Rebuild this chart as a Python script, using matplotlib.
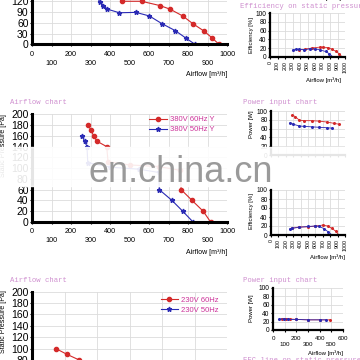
import numpy as np
import matplotlib.pyplot as plt
from matplotlib.patches import Rectangle

plt.rcParams['font.family'] = ['Liberation Sans', 'DejaVu Sans']

# ---- values ----
# top airflow chart (cut off at the top)
top_red_x = [400, 440, 460, 562, 656, 708, 773, 826, 882, 923, 959]
top_red_y = [185, 140, 120, 120, 108, 98, 79, 57, 37, 18, 0]
top_blue_x = [310, 333, 348, 366, 386, 448, 533, 602, 665, 735, 790, 836]
top_blue_y = [160, 132, 118, 108, 98, 88, 89, 79, 58, 38, 17, 0]

# 380V airflow chart
mid_red_x = [289, 303, 316, 333, 383, 390, 500, 650, 760, 765, 821, 878, 916]
mid_red_y = [180, 170, 160, 150, 140, 112, 106, 103, 96, 60, 40, 20, 0]
mid_blue_x = [256, 270, 282, 286, 400, 550, 650, 653, 718, 773, 826]
mid_blue_y = [160, 150, 140, 110, 102, 98, 92, 60, 40, 20, 0]
mid_labels = ['380V 60Hz Y', '380V 50Hz Y']

# 230V airflow chart (cut off at the bottom)
low_red_x = [74, 108, 146, 200, 300, 400, 500, 540]
low_red_y = [100, 90, 80, 68, 50, 30, 10, 0]
low_blue_x = [55, 95, 130, 200, 300, 400, 480]
low_blue_y = [75, 68, 60, 50, 35, 18, 0]
low_labels = ['230V 60Hz', '230V 50Hz']

# efficiency, top right
eff1_red_x = [380, 460, 560, 660, 710, 770, 830, 880, 920, 959]
eff1_red_y = [16, 17, 20, 22, 22, 21, 17, 12, 7, 0]
eff1_blue_x = [300, 350, 390, 450, 530, 600, 660, 740, 790, 836]
eff1_blue_y = [15, 17, 17, 16, 18, 18, 16, 12, 7, 0]

# power, middle right
pow1_red_x = [289, 330, 383, 450, 550, 650, 750, 850, 916]
pow1_red_y = [91, 87, 79, 78, 78, 77, 75, 72, 70]
pow1_blue_x = [256, 300, 380, 450, 550, 650, 750, 826]
pow1_blue_y = [73, 70, 66, 65, 64, 63, 62, 61]

# efficiency, middle right
eff2_red_x = [289, 383, 500, 600, 700, 765, 821, 878, 916]
eff2_red_y = [15, 18, 18, 20, 22, 20, 15, 8, 0]
eff2_blue_x = [256, 282, 380, 500, 600, 653, 718, 773, 826]
eff2_blue_y = [14, 15, 17, 19, 20, 19, 14, 7, 0]

# power, bottom right
pow2_red_x = [74, 108, 146, 200, 300, 400, 489]
pow2_red_y = [27, 27, 26, 25, 24, 24, 24]
pow2_blue_x = [55, 95, 130, 200, 300, 400, 450]
pow2_blue_y = [26, 26, 25, 25, 24, 24, 24]

RED = '#d42a2a'
BLUE = '#2a2ab4'
PINK = '#cf8fcf'
MAG = '#cc3399'
GRID = '#dcdcdc'

fig = plt.figure(figsize=(3.6, 3.6), dpi=100)


def box(l, t, r, b):
    return [l / 360, 1 - b / 360, (r - l) / 360, (b - t) / 360]


def fx(x):
    return x / 360


def fy(y):
    return 1 - y / 360


def setup(ax, xmax, xstep, ymax, ystep, yfs, xfs, sw):
    ax.set_xlim(0, xmax)
    ax.set_ylim(0, ymax)
    ax.set_yticks(np.arange(0, ymax + 1, ystep))
    ax.set_xticks(np.arange(0, xmax + 1, xstep))
    ax.grid(True, color=GRID, lw=0.6)
    ax.set_axisbelow(True)
    for s in ['top', 'right']:
        ax.spines[s].set_visible(False)
    for s in ['left', 'bottom']:
        ax.spines[s].set_linewidth(sw)
    ax.tick_params(axis='y', labelsize=yfs, length=1.5, width=0.8, pad=1)
    ax.tick_params(axis='x', labelsize=xfs, length=1.5, width=0.8, pad=3)


def two_rows(ax, vals, step2, fs, ls=1.45):
    labs = []
    for v in vals:
        labs.append(str(v) if (v // step2) % 2 == 0 else '\n' + str(v))
    ax.set_xticklabels(labs, fontsize=fs)
    for t in ax.get_xticklabels():
        t.set_linespacing(ls)


def curve(ax, x, y, c, mk, ms, lw, label=None):
    ax.plot(x, y, color=c, lw=lw, marker=mk, ms=ms, mec=c, mfc=c, label=label,
            clip_on=True)


# ---- top airflow chart ----
ax1 = fig.add_axes(box(32, -31, 227, 44.3))
setup(ax1, 1000, 100, 210, 30, 7.5, 5.2, 2.2)
two_rows(ax1, list(range(0, 1001, 100)), 100, 5.2)
ax1.set_yticks([0, 30, 60, 90, 120])
ax1.set_xticks(np.arange(0, 1001, 20), minor=True)
ax1.tick_params(axis='x', which='minor', length=2, width=0.8, direction='inout')
curve(ax1, top_red_x, top_red_y, RED, 'o', 3, 0.8)
curve(ax1, top_blue_x, top_blue_y, BLUE, '*', 3.5, 0.8)
fig.text(fx(227), fy(75), 'Airflow [m³/h]', fontsize=5, ha='right', va='center')

# ---- 380V airflow chart ----
ax2 = fig.add_axes(box(32, 114.3, 227, 222))
setup(ax2, 1000, 100, 200, 20, 7.5, 5.2, 2.2)
two_rows(ax2, list(range(0, 1001, 100)), 100, 5.2)
ax2.set_xticks(np.arange(0, 1001, 20), minor=True)
ax2.tick_params(axis='x', which='minor', length=2, width=0.8, direction='inout')
curve(ax2, mid_red_x, mid_red_y, RED, 'o', 3, 0.8, mid_labels[0])
curve(ax2, mid_blue_x, mid_blue_y, BLUE, '*', 3.5, 0.8, mid_labels[1])
ax2.legend(loc='upper left', bbox_to_anchor=(0.6, 0.985), frameon=False,
           fontsize=5.5, labelcolor=MAG, handlelength=2.3, handletextpad=0.4,
           labelspacing=0.35, borderpad=0, borderaxespad=0)
fig.text(fx(10), fy(103), 'Airflow chart', family='Liberation Mono', fontsize=5.2,
         color=PINK, va='center')
fig.text(fx(3.5), fy(146), 'Static Pressure [Pa]', fontsize=5, rotation=90,
         ha='center', va='center')
fig.text(fx(227), fy(252), 'Airflow [m³/h]', fontsize=5, ha='right', va='center')

# ---- 230V airflow chart ----
ax3 = fig.add_axes(box(32, 291.7, 227, 405.7))
setup(ax3, 600, 100, 200, 20, 7.5, 5.2, 2.2)
curve(ax3, low_red_x, low_red_y, RED, 'o', 3, 0.8, low_labels[0])
curve(ax3, low_blue_x, low_blue_y, BLUE, '*', 3.5, 0.8, low_labels[1])
ax3.legend(loc='upper left', bbox_to_anchor=(0.66, 0.96), frameon=False,
           fontsize=5.5, labelcolor=MAG, handlelength=2.3, handletextpad=0.4,
           labelspacing=0.35, borderpad=0, borderaxespad=0)
fig.text(fx(10), fy(281), 'Airflow chart', family='Liberation Mono', fontsize=5.2,
         color=PINK, va='center')
fig.text(fx(3.5), fy(322), 'Static Pressure [Pa]', fontsize=5, rotation=90,
         ha='center', va='center')

# ---- efficiency, top right ----
ax4 = fig.add_axes(box(270, 13.3, 345, 56.7))
setup(ax4, 1000, 100, 100, 20, 4.8, 3.8, 1.6)
ax4.set_xticklabels([str(v) for v in range(0, 1001, 100)], rotation=90)
ax4.tick_params(axis='x', pad=1.5)
curve(ax4, eff1_red_x, eff1_red_y, RED, 'o', 1.2, 0.6)
curve(ax4, eff1_blue_x, eff1_blue_y, BLUE, 'o', 1.2, 0.6)
fig.text(fx(240), fy(6), 'Efficiency on static pressure', family='Liberation Mono',
         fontsize=5.2, color=PINK, va='center')
fig.text(fx(251), fy(35), 'Efficiency [%]', fontsize=4.3, rotation=90,
         ha='center', va='center')
fig.text(fx(323), fy(80), 'Airflow [m³/h]', fontsize=4.3, ha='center', va='center')
fig.text(fx(323), fy(1), 'Airflow [m³/h]', fontsize=4.3, ha='center', va='bottom')

# ---- power, middle right ----
ax5 = fig.add_axes(box(271, 111, 345, 155))
setup(ax5, 1000, 100, 100, 20, 4.8, 3.8, 1.6)
ax5.set_xticklabels([])
curve(ax5, pow1_red_x, pow1_red_y, RED, 'o', 1.2, 0.6)
curve(ax5, pow1_blue_x, pow1_blue_y, BLUE, 'o', 1.2, 0.6)
fig.text(fx(243), fy(103), 'Power input chart', family='Liberation Mono',
         fontsize=5.2, color=PINK, va='center')
fig.text(fx(251), fy(124), 'Power [W]', fontsize=4.3, rotation=90,
         ha='center', va='center')

# ---- efficiency, middle right ----
ax6 = fig.add_axes(box(271, 190, 345, 235))
setup(ax6, 1000, 100, 100, 20, 4.8, 3.8, 1.6)
ax6.set_xticklabels([str(v) for v in range(0, 1001, 100)], rotation=90)
ax6.tick_params(axis='x', pad=1.5)
curve(ax6, eff2_red_x, eff2_red_y, RED, 'o', 1.2, 0.6)
curve(ax6, eff2_blue_x, eff2_blue_y, BLUE, 'o', 1.2, 0.6)
fig.text(fx(251), fy(211), 'Efficiency [%]', fontsize=4.3, rotation=90,
         ha='center', va='center')
fig.text(fx(327), fy(257), 'Airflow [m³/h]', fontsize=4.3, ha='center', va='center')

# ---- power, bottom right ----
ax7 = fig.add_axes(box(273, 287.7, 343, 330))
setup(ax7, 600, 100, 100, 20, 4.8, 4.5, 1.6)
two_rows(ax7, list(range(0, 601, 100)), 100, 4.5, ls=1.3)
curve(ax7, pow2_red_x, pow2_red_y, RED, 'o', 1.2, 0.6)
curve(ax7, pow2_blue_x, pow2_blue_y, BLUE, 'o', 1.2, 0.6)
fig.text(fx(243), fy(281), 'Power input chart', family='Liberation Mono',
         fontsize=5.2, color=PINK, va='center')
fig.text(fx(251), fy(308), 'Power [W]', fontsize=4.3, rotation=90,
         ha='center', va='center')
fig.text(fx(326), fy(353), 'Airflow [m³/h]', fontsize=4.3, ha='center', va='center')
fig.text(fx(243), fy(357), 'EEC line on static pressure', family='Liberation Mono',
         fontsize=5.2, color=PINK, va='top')

# ---- watermark band ----
fig.patches.append(Rectangle((0, fy(186)), 1, (186 - 147) / 360,
                             transform=fig.transFigure, color='white', alpha=0.9,
                             zorder=10))
fig.text(fx(89), fy(182), 'en.china.cn', fontsize=26, color='#9a9a9a',
         va='baseline', zorder=11)

fig.savefig('out.png', dpi=100)
